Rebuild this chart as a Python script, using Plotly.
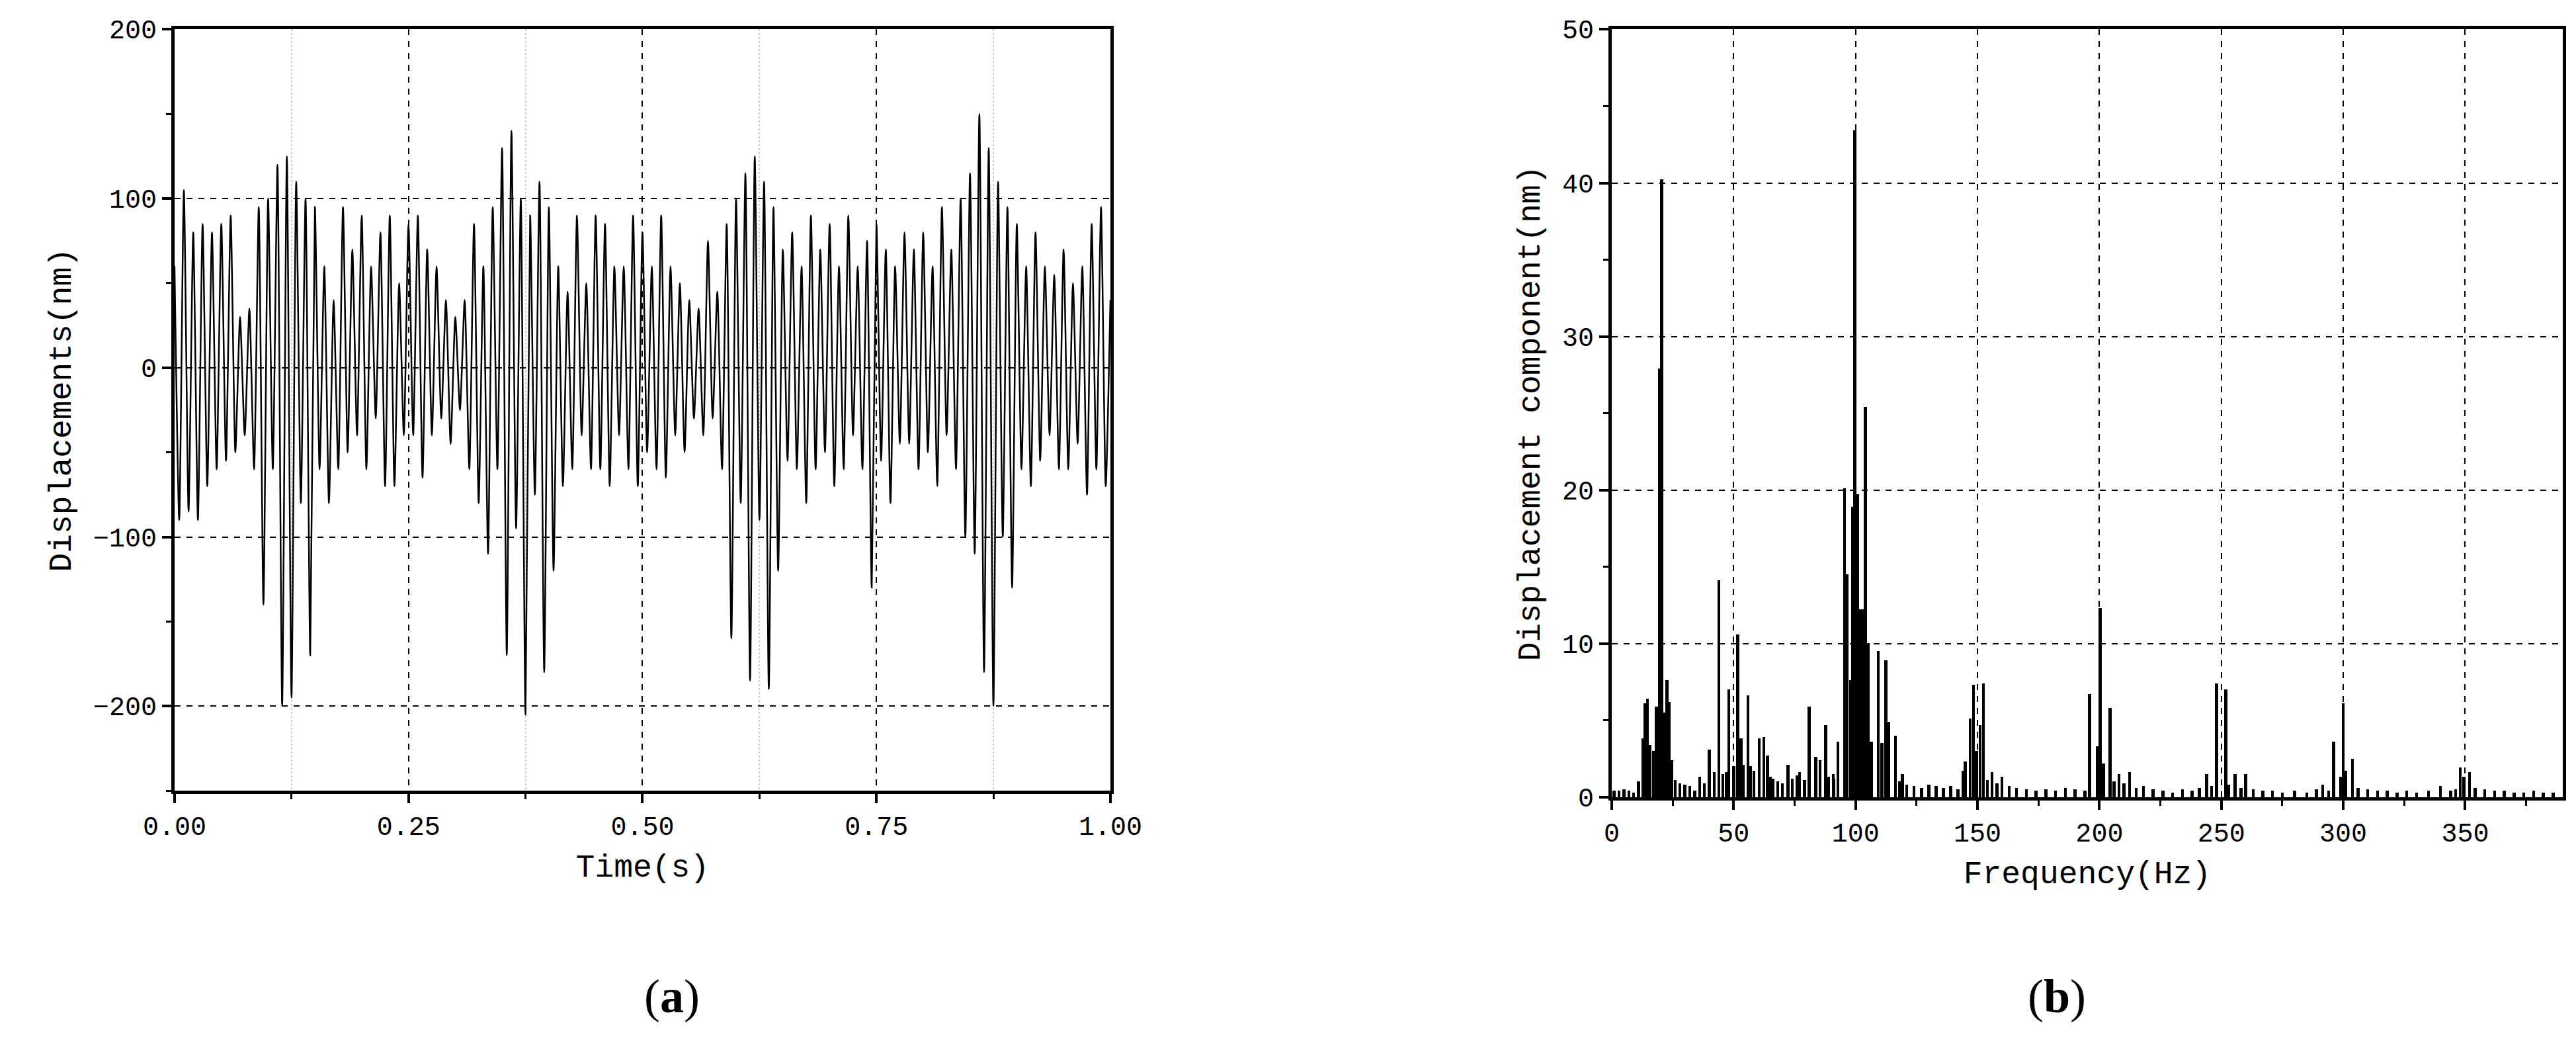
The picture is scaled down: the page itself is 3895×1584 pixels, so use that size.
import plotly.graph_objects as go

# ---- (a) time series: successive extremes, one every 5 ms ----
disp_nm = [
 60,-90,105,-85,80,-90,85,-70,80,-60,
 85,-55,90,-50,30,-40,35,-60,95,-140,
 100,-60,120,-200,125,-195,110,-80,100,-170,
 95,-60,60,-80,40,-60,95,-50,70,-40,
 90,-60,60,-30,80,-70,90,-70,50,-40,
 85,-40,90,-65,70,-40,60,-30,40,-45,
 30,-25,40,-60,85,-80,60,-110,95,-60,
 130,-170,140,-95,100,-205,90,-75,110,-180,
 95,-120,60,-70,45,-60,90,-40,50,-60,
 90,-60,85,-70,60,-40,60,-60,90,-70,
 80,-50,60,-60,90,-65,60,-40,50,-50,
 40,-30,35,-40,75,-30,45,-60,85,-160,
 100,-80,115,-185,125,-90,110,-190,95,-120,
 70,-55,80,-60,60,-80,90,-60,70,-50,
 85,-70,60,-60,90,-40,60,-60,75,-130,
 85,-55,70,-80,60,-45,80,-45,70,-60,
 80,-50,60,-70,95,-40,70,-60,100,-100,
 115,-110,150,-180,130,-200,110,-100,95,-130,
 85,-60,60,-70,80,-55,60,-40,55,-60,
 70,-60,50,-45,60,-75,85,-60,95,-70,
 40]
time_s = [i * 0.005 for i in range(len(disp_nm))]

# ---- (b) spectrum: peaks ----
peak_hz = [12.7,13.7,14.7,15.7,17.2,18.3,19.5,20.5,21.6,22.6,23.6,24.6,
           36,40,42,43.9,45.6,48,50,51.7,53,55.8,56.8,58.3,60.4,62.4,63.9,66,
           72.3,77,81,83.7,85.5,87.7,90.8,92.8,95.4,96.4,97.9,98.7,99.7,100.7,
           101.7,102.7,104,105.2,106.5,109.3,110.8,112.4,113.6,116.4,119.2,
           144,145,147,148.4,149.6,151,152.4,156,160,
           196,199,200.3,201.6,204.4,208,212.3,
           244,248,251.8,255.6,260,291.6,296,299,300,301,303.8,339.8,348,349.5,351.7]
peak_nm = [3.8,6.1,6.4,3.4,3.0,5.9,27.9,40.2,5.5,7.6,6.2,2.4,
           1.3,3.1,1.6,14.1,1.5,7.0,2.0,10.6,3.8,6.6,2.0,1.7,3.8,3.9,2.7,1.2,
           2.1,1.6,5.9,2.6,2.4,4.7,1.5,3.6,20.1,14.5,7.6,18.9,43.4,19.7,
           12.2,12.2,25.4,10.0,3.6,9.5,3.5,8.9,4.9,4.0,1.5,
           1.7,2.3,5.1,7.3,3.0,4.7,7.4,1.6,1.3,
           6.7,3.3,12.3,2.2,5.8,1.5,1.6,
           1.5,7.4,7.0,1.5,1.5,0.8,3.6,1.3,6.1,1.7,2.5,0.7,1.9,1.3,1.6]
# low-level background bins
bg_hz = [1,3,5,7,9,11,26,28,30,32,34,38,47,54,65,68,70,74,76,79,89,91,
         118,121,124,127,130,133,136,139,142,154,158,163,166,170,174,178,182,186,190,194,
         206,210,215,218,222,226,230,234,238,241,246,253,258,263,267,271,275,280,285,289,
         294,306,310,314,318,322,326,330,335,344,346,354,358,362,366,370,374,378,382,386,389]
bg_nm = [0.4,0.4,0.5,0.4,0.3,1.0,1.1,0.9,0.8,0.7,0.4,0.9,1.6,2.1,1.3,1.0,0.9,1.2,1.4,1.1,1.3,1.2,
         1.0,0.8,0.7,0.6,0.8,0.7,0.6,0.7,0.5,1.1,0.9,0.7,0.6,0.5,0.4,0.5,0.4,0.6,0.5,0.4,
         1.0,0.9,0.6,0.7,0.5,0.4,0.3,0.5,0.4,0.6,0.7,0.8,0.6,0.5,0.4,0.4,0.3,0.4,0.3,0.5,
         0.4,0.6,0.5,0.4,0.4,0.3,0.4,0.3,0.4,0.4,0.5,0.6,0.5,0.4,0.4,0.3,0.3,0.4,0.3,0.3]

FONT = "Liberation Mono"
fig = go.Figure()
fig.add_trace(go.Scatter(x=time_s, y=disp_nm, mode="lines", line=dict(color="black", width=2.5, shape="spline", smoothing=0.6),
                         xaxis="x", yaxis="y", showlegend=False))
fig.add_trace(go.Bar(x=peak_hz + bg_hz, y=peak_nm + bg_nm, width=1.2, marker=dict(color="black", line=dict(width=0)),
                     xaxis="x2", yaxis="y2", showlegend=False))

common = dict(showline=True, linecolor="black", linewidth=5, mirror=True, ticks="outside", ticklen=14, tickwidth=4,
              tickcolor="black", zeroline=False, gridcolor="black", gridwidth=2, griddash="dash", automargin=False,
              tickfont=dict(family=FONT, size=40, color="black"))
tf = dict(family=FONT, size=48, color="black")
fig.update_layout(
    width=3895, height=1584, margin=dict(l=0, r=0, t=0, b=0), plot_bgcolor="white", paper_bgcolor="white",
    bargap=0,
    xaxis=dict(domain=[0.0657, 0.429], anchor="y", range=[0, 1], tickvals=[0, 0.25, 0.5, 0.75, 1.0],
               ticktext=["0.00", "0.25", "0.50", "0.75", "1.00"],
               minor=dict(tickvals=[0.125, 0.375, 0.625, 0.875], showgrid=True, gridcolor="#cccccc", griddash="dot",
                          gridwidth=2, ticks="outside", ticklen=8, tickwidth=3, tickcolor="black"),
               title=dict(text="Time(s)", font=tf, standoff=20), **common),
    yaxis=dict(domain=[0.2506, 0.977], anchor="x", range=[-250, 200], tickvals=[-200, -100, 0, 100, 200],
               minor=dict(dtick=50, ticks="outside", ticklen=8, tickwidth=3, tickcolor="black"),
               title=dict(text="Displacements(nm)", font=tf, standoff=20), **common),
    xaxis2=dict(domain=[0.6236, 0.9928], anchor="y2", range=[0, 390], dtick=50,
                minor=dict(dtick=25, ticks="outside", ticklen=8, tickwidth=3, tickcolor="black"),
                title=dict(text="Frequency(Hz)", font=tf, standoff=20), **common),
    yaxis2=dict(domain=[0.2443, 0.977], anchor="x2", range=[0, 50], dtick=10,
                minor=dict(dtick=5, ticks="outside", ticklen=8, tickwidth=3, tickcolor="black"),
                title=dict(text="Displacement component(nm)", font=tf, standoff=20), **common),
    annotations=[
        dict(text="(<b>a</b>)", x=0.2475, y=1 - 1540 / 1584, xref="paper", yref="paper", showarrow=False,
             font=dict(family="Liberation Serif", size=72, color="black")),
        dict(text="(<b>b</b>)", x=0.8082, y=1 - 1540 / 1584, xref="paper", yref="paper", showarrow=False,
             font=dict(family="Liberation Serif", size=72, color="black")),
    ],
)
fig.write_html("out.html")
